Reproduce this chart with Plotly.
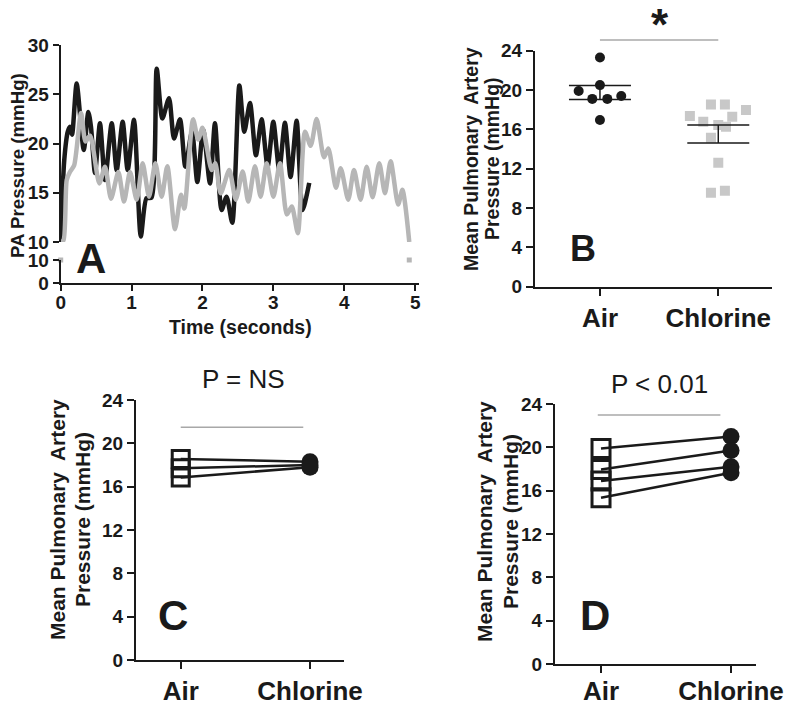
import plotly.graph_objects as go
import numpy as np

# The page body has an 8 px margin, so the figure is drawn 8 px in from the top-left;
# the figure is sized to fill the rest of the 800x708 window and positions are
# expressed in window pixels.
OFF = 8
W, H = 800 - OFF, 708 - OFF
def fx(p): return (p - OFF) / W
def fy(p): return 1 - (p - OFF) / H

FONT = "Liberation Sans, Arial, Helvetica, sans-serif"
BLACK = "#1a1a1a"
GRAY = "#b6b6b6"

# ---------------- Panel A data (time in s, pressure in mmHg) ----------------
air_trace_t = [0, 0.05, 0.10, 0.13, 0.16, 0.225, 0.325, 0.39, 0.427, 0.484, 0.554, 0.625,
               0.72, 0.79, 0.874, 0.945, 1.034, 1.13, 1.21, 1.28, 1.354, 1.434, 1.528,
               1.598, 1.683, 1.758, 1.852, 1.927, 2.01, 2.106, 2.176, 2.27, 2.34, 2.42,
               2.52, 2.59, 2.67, 2.754, 2.834, 2.919, 2.999, 3.083, 3.163, 3.243, 3.328,
               3.412, 3.506]
air_trace_p = [10, 18.3, 21.2, 21.7, 20.9, 26.1, 19.35, 23.2, 21.7, 17.0, 22.06, 16.3,
               22.06, 17.3, 22.2, 17.3, 22.4, 10.56, 14.45, 14.5, 27.6, 22.55, 24.6,
               20.5, 22.45, 17.65, 21.2, 16.1, 21.4, 15.95, 22.05, 13.25, 14.6, 11.96,
               25.9, 21.2, 24.1, 18.8, 22.45, 17.65, 22.2, 17.3, 22.1, 16.6, 22.3,
               13.25, 16.0]

cl_trace_t = [0, 0.04, 0.085, 0.13, 0.19, 0.287, 0.35, 0.415, 0.545, 0.625, 0.71, 0.813,
              0.893, 0.978, 1.072, 1.156, 1.246, 1.335, 1.424, 1.504, 1.612, 1.697, 1.744,
              1.867, 1.94, 2.0, 2.13, 2.18, 2.257, 2.378, 2.47, 2.567, 2.646, 2.74, 2.82,
              2.906, 3.0, 3.093, 3.19, 3.26, 3.345, 3.446, 3.526, 3.61, 3.714, 3.775,
              3.883, 3.95, 4.056, 4.137, 4.23, 4.316, 4.4, 4.494, 4.574, 4.654, 4.76,
              4.82, 4.917]
cl_trace_p = [10, 10.2, 16.3, 17.1, 17.8, 23.1, 20.2, 20.8, 15.95, 17.65, 14.4, 17.1,
              14.1, 17.1, 14.3, 18.0, 14.6, 18.0, 14.6, 17.7, 11.3, 14.8, 13.4,
              22.45, 20.4, 21.6, 17.3, 18.0, 14.95, 17.3, 14.3, 17.15, 14.1, 17.7, 14.6,
              18.0, 14.6, 18.0, 12.8, 13.6, 10.9, 21.2, 19.76, 22.5, 18.6, 19.5,
              15.5, 17.5, 14.3, 17.3, 14.3, 17.65, 14.55, 18.0, 14.95, 18.2, 13.8,
              15.3, 10.0]
break_t = [0, 4.917]
break_p = [10, 10]

# ---------------- Panel B data ----------------
groups = ["Air", "Chlorine"]
b_air = [23.3, 20.5, 19.9, 19.1, 19.1, 19.4, 16.95]
b_air_jit = [0, 0, -0.18, -0.065, 0.062, 0.18, 0]
b_cl = [17.36, 16.78, 18.54, 18.54, 17.97, 17.29, 16.44, 16.27, 15.15, 12.61, 9.56, 9.76]
b_cl_jit = [-0.24, -0.127, -0.062, 0.056, 0.234, 0.118, 0, 0.065, -0.062, 0, -0.062, 0.056]

# ---------------- Panel C / D paired data ----------------
c_air = [18.55, 17.7, 16.85]
c_cl = [18.3, 18.0, 17.8]
d_air = [19.9, 17.95, 16.9, 15.35]
d_cl = [21.0, 19.7, 18.2, 17.65]

y_ticks = [0, 4, 8, 12, 16, 20, 24]

fig = go.Figure()

# Panel A
fig.add_trace(go.Scatter(x=air_trace_t, y=air_trace_p, mode="lines",
                         line=dict(color=BLACK, width=4.5, shape="spline", smoothing=0.7),
                         xaxis="x", yaxis="y", showlegend=False, hoverinfo="skip"))
fig.add_trace(go.Scatter(x=cl_trace_t, y=cl_trace_p, mode="lines",
                         line=dict(color=GRAY, width=4.5, shape="spline", smoothing=0.7),
                         xaxis="x", yaxis="y", showlegend=False, hoverinfo="skip"))
fig.add_trace(go.Scatter(x=break_t, y=break_p, mode="markers",
                         marker=dict(color=GRAY, size=5, symbol="square"),
                         xaxis="x", yaxis="y2", showlegend=False, hoverinfo="skip",
                         cliponaxis=False))

# Panel B
def sem(v):
    v = np.asarray(v)
    return v.std(ddof=1) / np.sqrt(len(v))

fig.add_trace(go.Scatter(x=[0 + j for j in b_air_jit], y=b_air, mode="markers",
                         marker=dict(color=BLACK, size=10, symbol="circle"),
                         xaxis="x3", yaxis="y3", showlegend=False))
fig.add_trace(go.Scatter(x=[1 + j for j in b_cl_jit], y=b_cl, mode="markers",
                         marker=dict(color="#c8c8c8", size=10, symbol="square"),
                         xaxis="x3", yaxis="y3", showlegend=False))
fig.add_trace(go.Scatter(x=[0, 1], y=[np.mean(b_air), np.mean(b_cl)], mode="markers",
                         marker=dict(size=1, color="rgba(0,0,0,0)"),
                         error_y=dict(type="data", array=[sem(b_air), sem(b_cl)],
                                      color=BLACK, thickness=1.5, width=31),
                         xaxis="x3", yaxis="y3", showlegend=False))

# Panel C
for a, c in zip(c_air, c_cl):
    fig.add_trace(go.Scatter(x=[0, 1], y=[a, c], mode="lines",
                             line=dict(color=BLACK, width=2.5),
                             xaxis="x4", yaxis="y4", showlegend=False))
fig.add_trace(go.Scatter(x=[0] * len(c_air), y=c_air, mode="markers",
                         marker=dict(symbol="square-open", size=17, color=BLACK,
                                     line=dict(width=3, color=BLACK)),
                         xaxis="x4", yaxis="y4", showlegend=False))
fig.add_trace(go.Scatter(x=[1] * len(c_cl), y=c_cl, mode="markers",
                         marker=dict(symbol="circle", size=17, color=BLACK),
                         xaxis="x4", yaxis="y4", showlegend=False))

# Panel D
for a, c in zip(d_air, d_cl):
    fig.add_trace(go.Scatter(x=[0, 1], y=[a, c], mode="lines",
                             line=dict(color=BLACK, width=2.5),
                             xaxis="x5", yaxis="y5", showlegend=False))
fig.add_trace(go.Scatter(x=[0] * len(d_air), y=d_air, mode="markers",
                         marker=dict(symbol="square-open", size=18, color=BLACK,
                                     line=dict(width=3, color=BLACK)),
                         xaxis="x5", yaxis="y5", showlegend=False))
fig.add_trace(go.Scatter(x=[1] * len(d_cl), y=d_cl, mode="markers",
                         marker=dict(symbol="circle", size=17, color=BLACK),
                         xaxis="x5", yaxis="y5", showlegend=False))

axis_common = dict(showline=True, linecolor=BLACK, linewidth=2, ticks="outside",
                   ticklen=7, tickwidth=2, tickcolor=BLACK, showgrid=False,
                   zeroline=False, fixedrange=True, automargin=False,
                   tickfont=dict(family=FONT, size=19, color=BLACK, weight="bold"))
cat_font = dict(family=FONT, size=26, color=BLACK, weight="bold")

fig.update_layout(
    template="none",
    width=W, height=H, margin=dict(l=0, r=0, t=0, b=0, pad=0),
    paper_bgcolor="white", plot_bgcolor="white", showlegend=False,
    xaxis=dict(axis_common, domain=[fx(60.7), fx(418.7)], range=[0, 5.05], anchor="y2",
               tickvals=[0, 1, 2, 3, 4, 5], ticklen=6, ticklabelstandoff=-5),
    yaxis=dict(axis_common, domain=[fy(242), fy(45)], range=[10, 30], anchor="x",
               tickvals=[10, 15, 20, 25, 30], ticklen=6),
    yaxis2=dict(axis_common, domain=[fy(283.3), fy(260)], range=[0, 10], anchor="x",
                tickvals=[0, 10], ticklen=6),
    xaxis3=dict(axis_common, domain=[fx(535), fx(772)], range=[-0.549, 1.454], anchor="y3",
                tickvals=[0, 1], ticktext=groups, tickfont=cat_font),
    yaxis3=dict(axis_common, domain=[fy(286.7), fy(50.7)], range=[0, 24], anchor="x3",
                tickvals=y_ticks),
    xaxis4=dict(axis_common, domain=[fx(136), fx(344)], range=[-0.346, 1.263], anchor="y4",
                tickvals=[0, 1], ticktext=groups, tickfont=cat_font),
    yaxis4=dict(axis_common, domain=[fy(660), fy(400)], range=[0, 24], anchor="x4",
                tickvals=y_ticks),
    xaxis5=dict(axis_common, domain=[fx(555), fx(756)], range=[-0.354, 1.192], anchor="y5",
                tickvals=[0, 1], ticktext=groups, tickfont=cat_font, ticklabelstandoff=-4),
    yaxis5=dict(axis_common, domain=[fy(664), fy(404)], range=[0, 24], anchor="x5",
                tickvals=y_ticks),
)

def ann(text, x, y, size, bold=True, angle=0, color=BLACK):
    fig.add_annotation(text=text, x=fx(x), y=fy(y), xref="paper", yref="paper",
                       showarrow=False, textangle=angle, xanchor="center", yanchor="middle",
                       font=dict(family=FONT, size=size, color=color,
                                 weight="bold" if bold else "normal"))

# Axis titles
ann("PA Pressure (mmHg)", 17, 166, 18.7, angle=-90)
ann("Time (seconds)", 240, 327, 19.5)
ann("Mean Pulmonary\u00a0 Artery", 471, 159, 19.5, angle=-90)
ann("Pressure (mmHg)", 492, 159, 19.5, angle=-90)
ann("Mean Pulmonary\u00a0 Artery", 57, 520, 21, angle=-90)
ann("Pressure (mmHg)", 82, 520, 21, angle=-90)
ann("Mean Pulmonary\u00a0 Artery", 484, 522, 21, angle=-90)
ann("Pressure (mmHg)", 510, 522, 21, angle=-90)

# Panel letters
ann("A", 90.5, 258, 42)
ann("B", 583, 248, 36)
ann("C", 173, 615, 42)
ann("D", 595, 615, 42)

# Significance marks
ann("*", 660, 24, 44)
ann("P = NS", 244, 379, 26, bold=False)
ann("P < 0.01", 659, 384, 26, bold=False)

sig_line = dict(color="#a8a8a8", width=1.5)
fig.add_shape(type="line", xref="x3", yref="paper", x0=0, x1=1.0, y0=fy(40), y1=fy(40), line=sig_line)
fig.add_shape(type="line", xref="x4", yref="paper", x0=0, x1=0.948, y0=fy(427.3), y1=fy(427.3), line=sig_line)
fig.add_shape(type="line", xref="x5", yref="paper", x0=-0.025, x1=0.918, y0=fy(415), y1=fy(415), line=sig_line)

fig.write_html("out.html")
